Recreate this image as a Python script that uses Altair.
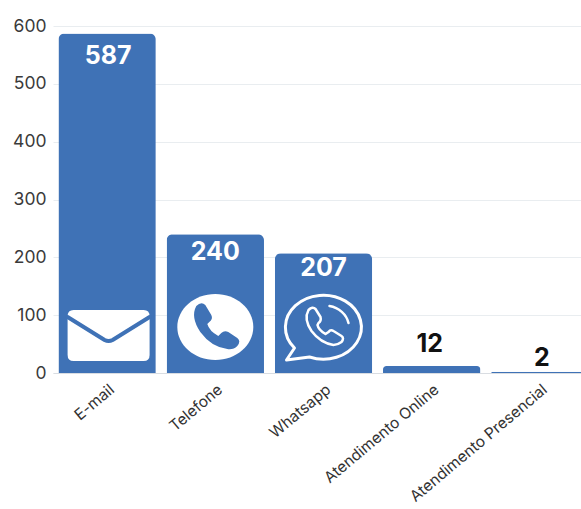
import altair as alt
import pandas as pd

categories = ["E-mail", "Telefone", "Whatsapp", "Atendimento Online", "Atendimento Presencial"]
values = [587, 240, 207, 12, 2]
y_ticks = [0, 100, 200, 300, 400, 500, 600]

BLUE = "#3f72b6"
FONT = "Inter"

# Icon outlines, in pixels around each icon's centre
ENVELOPE = ("M-35,-26 L35,-26 Q41,-26 41,-20 L41,19 Q41,25 35,25 L-35,25 "
            "Q-41,25 -41,19 L-41,-20 Q-41,-26 -35,-26 Z")
ENVELOPE_FOLD = "M-41,-19 L-4,4 Q0,6 4,4 L41,-19"
DISC = "M-38,0 A38,33 0 1 1 38,0 A38,33 0 1 1 -38,0 Z"
HANDSET = ("M-19,-21 Q-14,-26 -10,-22 L-4,-12 Q-2,-8 -6,-5 L-8,-3 Q-6,4 3,9 L6,6 "
           "Q9,3 13,5 L22,11 Q26,14 22,19 Q18,23 12,22 Q-4,20 -15,5 Q-25,-10 -19,-21 Z")
BUBBLE = "M-29,21 A38,32 0 1 1 -14,30 L-37,33 Z"
BUBBLE_ARC = "M6,-21 A24,22 0 0 1 25,-4"
HANDSET_OUTLINE = ("M-15,-17 Q-11,-21 -8,-18 L-3,-10 Q-2,-6 -5,-4 L-6,-2 Q-5,3 2,7 L5,5 "
                   "Q7,2 10,4 L18,9 Q21,11 18,15 Q14,18 10,18 Q-3,16 -12,4 Q-20,-8 -15,-17 Z")

df = pd.DataFrame({"canal": categories, "total": values})

x = alt.X(
    "canal:N",
    sort=categories,
    title=None,
    scale=alt.Scale(domain=categories, range=[0, 541], paddingInner=0.1, paddingOuter=0.05),
    axis=alt.Axis(
        labelAngle=-40,
        labelAlign="right",
        labelBaseline="middle",
        labelFont=FONT,
        labelFontSize=15.5,
        labelColor="#333333",
        labelPadding=14,
        labelOffset=5,
        labelOverlap=False,
        labelBound=False,
        labelFlush=False,
        ticks=False,
        domainColor="#d9dde2",
        grid=False,
    ),
)
y_axis = alt.Axis(
    values=y_ticks,
    labelFont=FONT,
    labelFontSize=17.5,
    labelColor="#3a3a3a",
    labelPadding=7,
    ticks=False,
    domain=False,
    gridColor="#e9edf0",
)
y_scale = alt.Scale(domain=[0, 600], nice=False)
y = alt.Y("total:Q", title=None, scale=y_scale, axis=y_axis)

base = alt.Chart(df)
bars = base.mark_bar(
    color=BLUE,
    cornerRadiusTopLeft=6,
    cornerRadiusTopRight=6,
).encode(x=x, y=y)


def value_label(total, color, dy, dx=0):
    """The count of one bar, inside it in white or above it in black."""
    return base.transform_filter(f"datum.total == {total}").mark_text(
        color=color, font=FONT, fontWeight="bold", fontSize=25,
        baseline="alphabetic", dy=dy, dx=dx,
    ).encode(x=x, y=y, text="total:Q")


labels = [
    value_label(587, "white", 30, 1),
    value_label(240, "white", 26),
    value_label(207, "white", 23),
    value_label(12, "#111111", -14.5, -2),
    value_label(2, "#111111", -6, 2),
]


def icon(category, path, lift, shift=0, filled=True, color="white", stroke_width=0):
    """One icon glyph standing on a bar's base; size 4 makes path units equal pixels."""
    props = dict(shape=path, size=4, opacity=1, yOffset=-lift, xOffset=shift)
    if filled:
        props.update(filled=True, fill=color, strokeWidth=0)
    else:
        props.update(filled=False, stroke=color, strokeWidth=stroke_width,
                     strokeCap="round", strokeJoin="round")
    return alt.Chart(pd.DataFrame({"canal": [category], "base": [0]})).mark_point(**props).encode(
        x=x, y=alt.Y("base:Q", title=None, scale=y_scale, axis=y_axis)
    )


icons = [
    icon("E-mail", ENVELOPE, 37, 1.5),
    icon("E-mail", ENVELOPE_FOLD, 37, 1.5, filled=False, color=BLUE, stroke_width=4),
    icon("Telefone", DISC, 46),
    icon("Telefone", HANDSET, 46, color=BLUE),
    icon("Whatsapp", BUBBLE, 46, filled=False, stroke_width=3),
    icon("Whatsapp", BUBBLE_ARC, 46, filled=False, stroke_width=2.5),
    icon("Whatsapp", HANDSET_OUTLINE, 46, filled=False, stroke_width=2.5),
]

chart = alt.layer(bars, *icons, *labels).properties(
    width=528,
    height=347,
    padding={"left": 53, "top": 26, "right": 0, "bottom": 136},
    autosize=alt.AutoSizeParams(type="none"),
).configure_view(stroke=None)

chart.save("out.html", embed_options={"renderer": "svg", "actions": False})
